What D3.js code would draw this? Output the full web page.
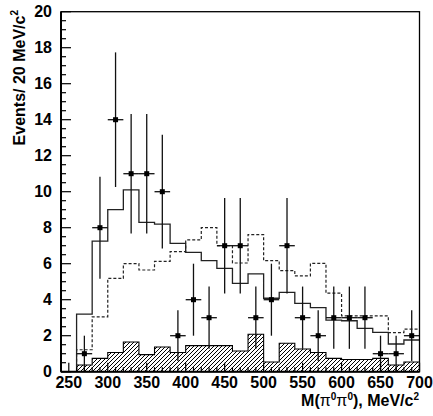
<!DOCTYPE html>
<html>
<head>
<meta charset="utf-8">
<script src="https://cdn.jsdelivr.net/npm/d3@7"></script>
<style>
  html, body { margin: 0; padding: 0; background: #fff; }
  svg { display: block; }
</style>
</head>
<body>
<svg id="chart" width="433" height="416"></svg>
<script>
// ---- data ----
const binLow = [260,280,300,320,340,360,380,400,420,440,460,480,500,520,540,560,580,600,620,640,660,680];
const binWidth = 20;
const dataCounts = [1,8,14,11,11,10,2,4,3,7,7,3,4,7,3,2,3,3,3,1,1,2];
const dataErrors = [1,2.83,3.74,3.32,3.32,3.16,1.41,2,1.73,2.65,2.65,1.73,2,2.65,1.73,1.41,1.73,1.73,1.73,1,1,1.41];
const solidHist = [3.2,7.25,9.0,10.1,8.3,8.2,7.13,6.63,6.17,5.74,4.91,5.43,4.08,4.41,3.8,3.56,2.87,2.83,2.41,2.19,1.54,1.76];
const dashedHist = [1.22,3.05,5.18,6.0,5.65,6.13,6.67,7.32,8.0,7.0,6.04,7.62,6.17,5.62,5.32,6.02,4.36,3.1,3.1,3.1,2.17,2.36];
const hatchHist = [0.37,0.74,1.07,1.65,0.95,1.37,1.07,1.45,1.45,1.45,1.15,2.08,0.54,1.58,1.26,1.07,0.74,0.68,0.68,0.74,0.37,0.54];
const xTicks = [250,300,350,400,450,500,550,600,650,700];
const yTicks = [0,2,4,6,8,10,12,14,16,18,20];

const FONT = "'Liberation Sans', Arial, Helvetica, sans-serif";

// ---- layout ----
const svg = d3.select("#chart");
const x = d3.scaleLinear().domain([240, 700]).range([61, 419.5]);
const y = d3.scaleLinear().domain([0, 20]).range([371.7, 11.7]);

// hatch pattern
const defs = svg.append("defs");
const pat = defs.append("pattern")
  .attr("id", "hatch").attr("patternUnits", "userSpaceOnUse")
  .attr("width", 4).attr("height", 4);
pat.append("path")
  .attr("d", "M-1,1 L1,-1 M0,4 L4,0 M3,5 L5,3")
  .attr("stroke", "#000").attr("stroke-width", 1);

function stepPoints(vals) {
  const pts = [[binLow[0], 0]];
  vals.forEach((v, i) => pts.push([binLow[i], v]));
  pts.push([binLow[binLow.length - 1] + binWidth, vals[vals.length - 1]]);
  return pts;
}

const line = d3.line().x(d => x(d[0])).y(d => y(d[1])).curve(d3.curveStepAfter);

// hatched background histogram
const area = d3.area().x(d => x(d[0])).y0(y(0)).y1(d => y(d[1])).curve(d3.curveStepAfter);
const hatchPts = stepPoints(hatchHist);
svg.append("path").datum(hatchPts).attr("d", area)
  .attr("fill", "url(#hatch)").attr("stroke", "none");
svg.append("path").datum(hatchPts.concat([[700, 0]])).attr("d", line)
  .attr("fill", "none").attr("stroke", "#000").attr("stroke-width", 1.1);

// dashed histogram
svg.append("path").datum(stepPoints(dashedHist)).attr("d", line)
  .attr("fill", "none").attr("stroke", "#222").attr("stroke-width", 1.2)
  .attr("stroke-dasharray", "3,2");

// solid histogram
svg.append("path").datum(stepPoints(solidHist)).attr("d", line)
  .attr("fill", "none").attr("stroke", "#222").attr("stroke-width", 1.3);

// data points with error bars
const pts = svg.append("g");
dataCounts.forEach((v, i) => {
  const c = binLow[i] + binWidth / 2;
  const e = dataErrors[i];
  pts.append("line")
    .attr("x1", x(c)).attr("x2", x(c))
    .attr("y1", y(Math.max(0, v - e))).attr("y2", y(v + e))
    .attr("stroke", "#111").attr("stroke-width", 1.3);
  pts.append("line")
    .attr("x1", x(binLow[i])).attr("x2", x(binLow[i] + binWidth))
    .attr("y1", y(v)).attr("y2", y(v))
    .attr("stroke", "#111").attr("stroke-width", 1.3);
  pts.append("rect")
    .attr("x", x(c) - 2.5).attr("y", y(v) - 2.5)
    .attr("width", 5).attr("height", 5).attr("fill", "#000");
});

// frame
svg.append("rect")
  .attr("x", x(240)).attr("y", y(20))
  .attr("width", x(700) - x(240)).attr("height", y(0) - y(20))
  .attr("fill", "none").attr("stroke", "#000").attr("stroke-width", 1.3);

// y axis ticks (inside)
const yg = svg.append("g");
d3.range(0, 20.01, 0.5).forEach(t => {
  const major = Math.abs(t - Math.round(t / 2) * 2) < 1e-6;
  yg.append("line")
    .attr("x1", x(240)).attr("x2", x(240) + (major ? 10 : 5))
    .attr("y1", y(t)).attr("y2", y(t))
    .attr("stroke", "#000").attr("stroke-width", 1.2);
});
yTicks.forEach(t => {
  yg.append("text").attr("x", 52).attr("y", y(t) + 5.6)
    .attr("text-anchor", "end")
    .attr("font-family", FONT).attr("font-weight", "bold")
    .attr("font-size", 16).text(t);
});
// left & bottom axis thicker
svg.append("line").attr("x1", x(240)).attr("x2", x(240)).attr("y1", y(20)).attr("y2", y(0))
  .attr("stroke", "#000").attr("stroke-width", 2);
svg.append("line").attr("x1", x(240)).attr("x2", x(700)).attr("y1", y(0)).attr("y2", y(0))
  .attr("stroke", "#000").attr("stroke-width", 2);

// x axis ticks (inside)
const xg = svg.append("g");
d3.range(250, 700.01, 10).forEach(t => {
  const major = t % 50 === 0;
  xg.append("line")
    .attr("x1", x(t)).attr("x2", x(t))
    .attr("y1", y(0)).attr("y2", y(0) - (major ? 9 : 4.5))
    .attr("stroke", "#000").attr("stroke-width", 1.2);
});
xTicks.forEach(t => {
  xg.append("text").attr("x", x(t)).attr("y", 388)
    .attr("text-anchor", "middle")
    .attr("font-family", FONT).attr("font-weight", "bold")
    .attr("font-size", 16).text(t);
});

// axis titles
const xt = svg.append("text").attr("x", 419).attr("y", 405.5)
  .attr("text-anchor", "end").attr("font-size", 16)
  .attr("font-family", FONT).attr("font-weight", "bold");
xt.append("tspan").text("M(");
xt.append("tspan").attr("font-weight", "normal").text("π");
xt.append("tspan").attr("font-size", 10).attr("dy", -6).text("0");
xt.append("tspan").attr("dy", 6).attr("font-weight", "normal").text("π");
xt.append("tspan").attr("font-size", 10).attr("dy", -6).text("0");
xt.append("tspan").attr("dy", 6).text("), MeV/c");
xt.append("tspan").attr("font-size", 10).attr("dy", -6).text("2");

const yt = svg.append("text").attr("transform", "translate(25,10) rotate(-90)")
  .attr("text-anchor", "end").attr("font-size", 16)
  .attr("font-family", FONT).attr("font-weight", "bold");
yt.append("tspan").text("Events/ 20 MeV/c");
yt.append("tspan").attr("font-size", 10).attr("dy", -7).text("2");
</script>
</body>
</html>
